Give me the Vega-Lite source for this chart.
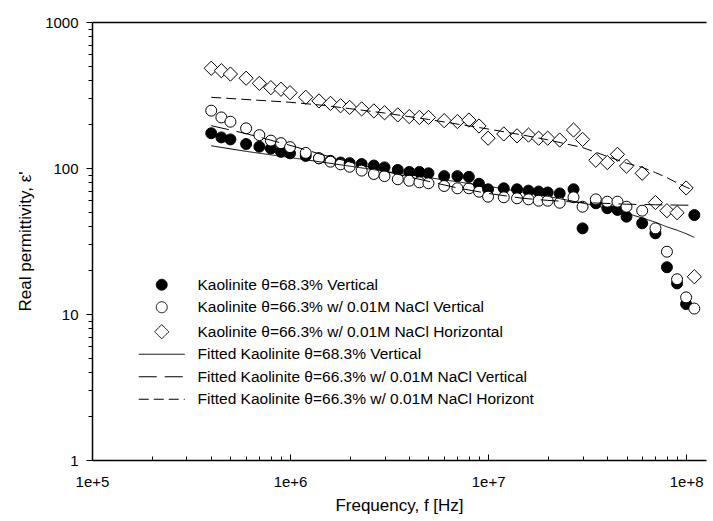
{
  "$schema": "https://vega.github.io/schema/vega-lite/v6.json",
  "width": 614,
  "height": 438,
  "autosize": {"type": "none"},
  "padding": {"left": 92, "top": 22, "right": 7, "bottom": 61},
  "background": "white",
  "config": {
    "font": "Liberation Sans",
    "view": {"stroke": null},
    "axis": {
      "domainColor": "black",
      "domainWidth": 1.5,
      "tickColor": "black",
      "tickWidth": 1,
      "labelColor": "black",
      "labelFontSize": 15,
      "titleColor": "black",
      "titleFontSize": 17,
      "titleFontWeight": "normal",
      "grid": false
    },
    "legend": {
      "labelFontSize": 15.5,
      "labelColor": "black",
      "labelLimit": 0
    }
  },
  "datasets": {
    "meas": [
      {"f": 400000, "p1": 173, "p2": 247, "p3": 482},
      {"f": 450000, "p1": 162, "p2": 222, "p3": 464},
      {"f": 500000, "p1": 157, "p2": 207.5, "p3": 440},
      {"f": 600000, "p1": 146, "p2": 187, "p3": 412},
      {"f": 700000, "p1": 140, "p2": 168, "p3": 380},
      {"f": 800000, "p1": 136, "p2": 154, "p3": 355},
      {"f": 900000, "p1": 129, "p2": 148, "p3": 346},
      {"f": 1000000, "p1": 126, "p2": 139, "p3": 328},
      {"f": 1200000, "p1": 121, "p2": 127, "p3": 305},
      {"f": 1400000, "p1": 116.5, "p2": 116.5, "p3": 288},
      {"f": 1600000, "p1": 112, "p2": 110.5, "p3": 277},
      {"f": 1800000, "p1": 109, "p2": 106, "p3": 267},
      {"f": 2000000, "p1": 108, "p2": 102, "p3": 260},
      {"f": 2300000, "p1": 106.5, "p2": 96, "p3": 254},
      {"f": 2650000, "p1": 104, "p2": 91, "p3": 246},
      {"f": 3000000, "p1": 101, "p2": 88, "p3": 239},
      {"f": 3500000, "p1": 97, "p2": 83.7, "p3": 231},
      {"f": 4000000, "p1": 94, "p2": 81.8, "p3": 225},
      {"f": 4500000, "p1": 94, "p2": 79.8, "p3": 222},
      {"f": 5000000, "p1": 92, "p2": 78.6, "p3": 222},
      {"f": 6000000, "p1": 88, "p2": 75.3, "p3": 211},
      {"f": 7000000, "p1": 88, "p2": 72.6, "p3": 208},
      {"f": 8000000, "p1": 87, "p2": 72.6, "p3": 213},
      {"f": 9000000, "p1": 78, "p2": 68.8, "p3": 194},
      {"f": 10000000, "p1": 71.5, "p2": 63.6, "p3": 160},
      {"f": 12000000, "p1": 72.6, "p2": 63, "p3": 171},
      {"f": 14000000, "p1": 71.5, "p2": 62, "p3": 166},
      {"f": 16000000, "p1": 70, "p2": 61, "p3": 168},
      {"f": 18000000, "p1": 69, "p2": 59.7, "p3": 160},
      {"f": 20000000, "p1": 68, "p2": 59.7, "p3": 160},
      {"f": 23000000, "p1": 67, "p2": 57.8, "p3": 155.5},
      {"f": 27000000, "p1": 71.5, "p2": 63, "p3": 182},
      {"f": 30000000, "p1": 38.6, "p2": 54.3, "p3": 157},
      {"f": 35000000, "p1": 57.3, "p2": 61, "p3": 113},
      {"f": 40000000, "p1": 53, "p2": 58.8, "p3": 109},
      {"f": 45000000, "p1": 51.6, "p2": 58.8, "p3": 124},
      {"f": 50000000, "p1": 46.4, "p2": 54.3, "p3": 103},
      {"f": 60000000, "p1": 41.8, "p2": 51, "p3": 92},
      {"f": 70000000, "p1": 35.7, "p2": 38.6, "p3": 58},
      {"f": 80000000, "p1": 20.9, "p2": 26.7, "p3": 51},
      {"f": 90000000, "p1": 16.2, "p2": 17.3, "p3": 49.4},
      {"f": 100000000, "p1": 11.7, "p2": 13, "p3": 73},
      {"f": 110000000, "p1": 47.6, "p2": 10.9, "p3": 18}
    ],
    "fit": [
      {"series": "f1", "f": 400000, "eps": 142},
      {"series": "f1", "f": 600000, "eps": 130},
      {"series": "f1", "f": 1000000, "eps": 118},
      {"series": "f1", "f": 2000000, "eps": 103},
      {"series": "f1", "f": 3000000, "eps": 95},
      {"series": "f1", "f": 5000000, "eps": 86},
      {"series": "f1", "f": 10000000, "eps": 75},
      {"series": "f1", "f": 20000000, "eps": 64},
      {"series": "f1", "f": 30000000, "eps": 57.5},
      {"series": "f1", "f": 40000000, "eps": 53},
      {"series": "f1", "f": 50000000, "eps": 49},
      {"series": "f1", "f": 60000000, "eps": 45.5},
      {"series": "f1", "f": 70000000, "eps": 42.5},
      {"series": "f1", "f": 80000000, "eps": 39.5},
      {"series": "f1", "f": 90000000, "eps": 37.5},
      {"series": "f1", "f": 100000000, "eps": 35.5},
      {"series": "f1", "f": 110000000, "eps": 33.5},
      {"series": "f2", "f": 400000, "eps": 195},
      {"series": "f2", "f": 500000, "eps": 182},
      {"series": "f2", "f": 600000, "eps": 172},
      {"series": "f2", "f": 800000, "eps": 155},
      {"series": "f2", "f": 1000000, "eps": 143},
      {"series": "f2", "f": 1500000, "eps": 122},
      {"series": "f2", "f": 2000000, "eps": 110},
      {"series": "f2", "f": 3000000, "eps": 95},
      {"series": "f2", "f": 5000000, "eps": 81},
      {"series": "f2", "f": 7000000, "eps": 73},
      {"series": "f2", "f": 10000000, "eps": 67},
      {"series": "f2", "f": 15000000, "eps": 62},
      {"series": "f2", "f": 20000000, "eps": 60},
      {"series": "f2", "f": 30000000, "eps": 58},
      {"series": "f2", "f": 50000000, "eps": 56.5},
      {"series": "f2", "f": 70000000, "eps": 56},
      {"series": "f2", "f": 110000000, "eps": 55.5},
      {"series": "f3", "f": 400000, "eps": 305},
      {"series": "f3", "f": 1000000, "eps": 282},
      {"series": "f3", "f": 1500000, "eps": 268},
      {"series": "f3", "f": 2000000, "eps": 255},
      {"series": "f3", "f": 3000000, "eps": 238},
      {"series": "f3", "f": 5000000, "eps": 215},
      {"series": "f3", "f": 10000000, "eps": 185},
      {"series": "f3", "f": 15000000, "eps": 168},
      {"series": "f3", "f": 20000000, "eps": 156},
      {"series": "f3", "f": 30000000, "eps": 138},
      {"series": "f3", "f": 40000000, "eps": 120},
      {"series": "f3", "f": 50000000, "eps": 108},
      {"series": "f3", "f": 60000000, "eps": 101},
      {"series": "f3", "f": 70000000, "eps": 93},
      {"series": "f3", "f": 80000000, "eps": 86},
      {"series": "f3", "f": 90000000, "eps": 79},
      {"series": "f3", "f": 100000000, "eps": 74},
      {"series": "f3", "f": 110000000, "eps": 70}
    ]
  },
  "layer": [
    {
      "data": {"name": "meas"},
      "transform": [{"fold": ["p1", "p2", "p3"], "as": ["series", "eps"]}],
      "mark": {"type": "point", "filled": true, "stroke": "black", "strokeWidth": 1, "size": 120, "opacity": 1},
      "encoding": {
        "x": {
          "field": "f", "type": "quantitative",
          "scale": {"type": "log", "domain": [100000, 126000000]},
          "axis": {
            "title": "Frequency, f [Hz]",
            "values": [100000, 200000, 300000, 400000, 500000, 600000, 700000, 800000, 900000, 1000000, 2000000, 3000000, 4000000, 5000000, 6000000, 7000000, 8000000, 9000000, 10000000, 20000000, 30000000, 40000000, 50000000, 60000000, 70000000, 80000000, 90000000, 100000000],
            "format": ".0e",
            "labelExpr": "datum.label[0] == '1' ? datum.label : ''",
            "tickSize": {"condition": {"test": "abs(log(datum.value)/LN10 - round(log(datum.value)/LN10)) < 0.000001", "value": -6}, "value": -4},
            "labelPadding": 20,
            "titlePadding": 8,
            "labelFlush": false
          }
        },
        "y": {
          "field": "eps", "type": "quantitative",
          "scale": {"type": "log", "domain": [1, 1000]},
          "axis": {
            "title": "Real permittivity, ε'",
            "values": [1, 2, 3, 4, 5, 6, 7, 8, 9, 10, 20, 30, 40, 50, 60, 70, 80, 90, 100, 200, 300, 400, 500, 600, 700, 800, 900, 1000],
            "format": "d",
            "labelExpr": "(datum.label == '1' || datum.label == '10' || datum.label == '100' || datum.label == '1000') ? datum.label : ''",
            "tickSize": {"condition": {"test": "abs(log(datum.value)/LN10 - round(log(datum.value)/LN10)) < 0.000001", "value": 6}, "value": 4},
            "labelPadding": 8,
            "titlePadding": 10,
            "labelFlush": false
          }
        },
        "shape": {
          "field": "series", "type": "nominal",
          "scale": {
            "domain": ["p1", "p2", "p3", "f1", "f2", "f3"],
            "range": ["circle", "circle", "M-1.3,0L0,-1.3L1.3,0L0,1.3Z", "M-4.2,0H4.2", "M-4.2,0H4.2", "M-4.2,0H4.2"]
          },
          "legend": {
            "title": null, "orient": "none", "legendX": 62, "legendY": 255,
            "symbolSize": 120, "symbolStrokeColor": "black", "symbolStrokeWidth": 1,
            "labelOffset": 28, "rowPadding": 5.5, "padding": 0,
            "encode": {"symbols": {"update": {"stroke": {"value": "black"}, "strokeWidth": {"value": 1}, "opacity": {"value": 1}}}},
            "labelExpr": "datum.label == 'p1' ? 'Kaolinite θ=68.3% Vertical' : datum.label == 'p2' ? 'Kaolinite θ=66.3% w/ 0.01M NaCl Vertical' : datum.label == 'p3' ? 'Kaolinite θ=66.3% w/ 0.01M NaCl Horizontal' : datum.label == 'f1' ? 'Fitted Kaolinite θ=68.3% Vertical' : datum.label == 'f2' ? 'Fitted Kaolinite θ=66.3% w/ 0.01M NaCl Vertical' : 'Fitted Kaolinite θ=66.3% w/ 0.01M NaCl Horizont'"
          }
        },
        "fill": {
          "field": "series", "type": "nominal",
          "scale": {
            "domain": ["p1", "p2", "p3", "f1", "f2", "f3"],
            "range": ["black", "white", "white", "transparent", "transparent", "transparent"]
          },
          "legend": {
            "title": null, "orient": "none", "legendX": 62, "legendY": 255,
            "symbolSize": 120, "symbolStrokeColor": "black", "symbolStrokeWidth": 1,
            "labelOffset": 28, "rowPadding": 5.5, "padding": 0,
            "encode": {"symbols": {"update": {"stroke": {"value": "black"}, "strokeWidth": {"value": 1}, "opacity": {"value": 1}}}},
            "labelExpr": "datum.label == 'p1' ? 'Kaolinite θ=68.3% Vertical' : datum.label == 'p2' ? 'Kaolinite θ=66.3% w/ 0.01M NaCl Vertical' : datum.label == 'p3' ? 'Kaolinite θ=66.3% w/ 0.01M NaCl Horizontal' : datum.label == 'f1' ? 'Fitted Kaolinite θ=68.3% Vertical' : datum.label == 'f2' ? 'Fitted Kaolinite θ=66.3% w/ 0.01M NaCl Vertical' : 'Fitted Kaolinite θ=66.3% w/ 0.01M NaCl Horizont'"
          }
        }
      }
    },
    {
      "data": {"name": "fit"},
      "mark": {"type": "line", "color": "black", "strokeWidth": 1},
      "encoding": {
        "x": {
          "field": "f", "type": "quantitative",
          "scale": {"type": "log", "domain": [100000, 126000000]},
          "axis": {"orient": "top", "title": null, "labels": false, "ticks": false, "domainWidth": 1.5}
        },
        "y": {"field": "eps", "type": "quantitative"},
        "strokeDash": {
          "field": "series", "type": "nominal",
          "scale": {
            "domain": ["p1", "p2", "p3", "f1", "f2", "f3"],
            "range": [[1, 0], [1, 0], [1, 0], [1, 0], [18, 8], [10, 5]]
          },
          "legend": {
            "title": null, "orient": "none", "legendX": 62, "legendY": 255,
            "symbolSize": 120, "symbolStrokeColor": "black", "symbolStrokeWidth": 1,
            "labelOffset": 28, "rowPadding": 5.5, "padding": 0,
            "encode": {"symbols": {"update": {"stroke": {"value": "black"}, "strokeWidth": {"value": 1}, "opacity": {"value": 1}}}},
            "labelExpr": "datum.label == 'p1' ? 'Kaolinite θ=68.3% Vertical' : datum.label == 'p2' ? 'Kaolinite θ=66.3% w/ 0.01M NaCl Vertical' : datum.label == 'p3' ? 'Kaolinite θ=66.3% w/ 0.01M NaCl Horizontal' : datum.label == 'f1' ? 'Fitted Kaolinite θ=68.3% Vertical' : datum.label == 'f2' ? 'Fitted Kaolinite θ=66.3% w/ 0.01M NaCl Vertical' : 'Fitted Kaolinite θ=66.3% w/ 0.01M NaCl Horizont'"
          }
        }
      }
    }
  ],
  "resolve": {"axis": {"x": "independent"}}
}
